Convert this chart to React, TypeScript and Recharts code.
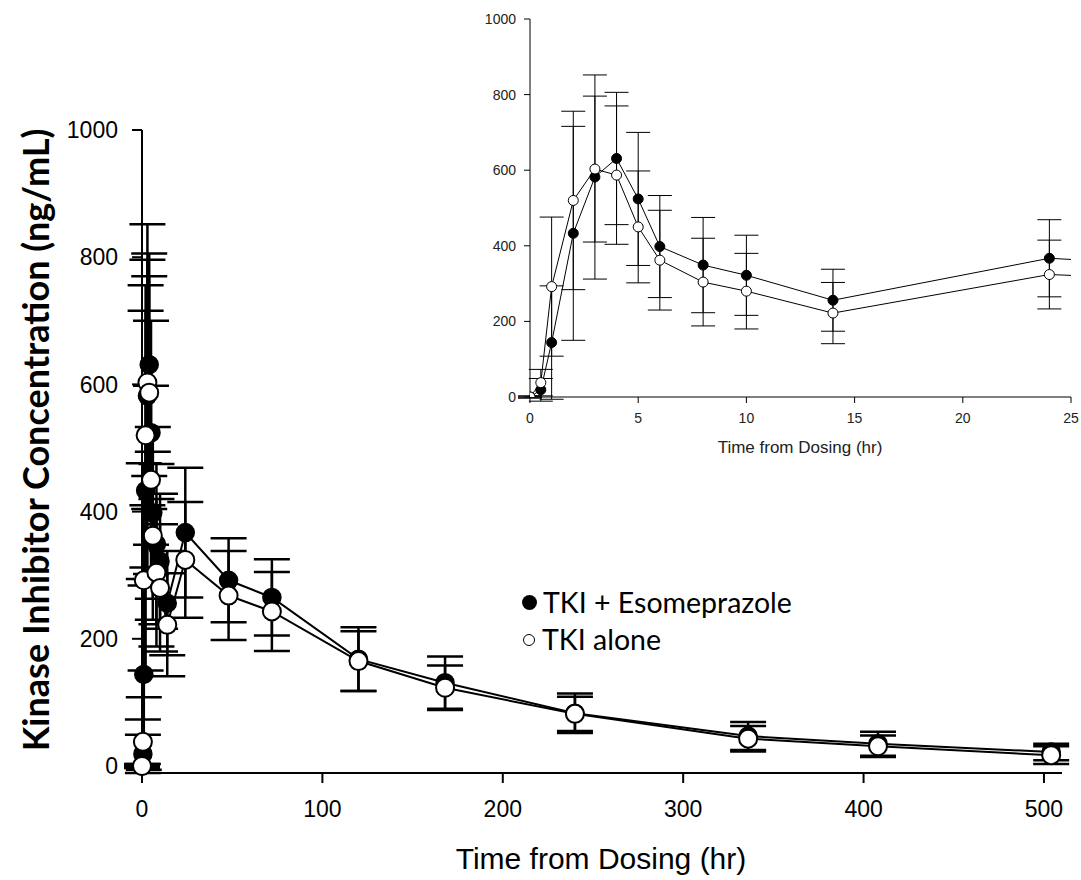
import { LineChart, Line, XAxis, YAxis, ErrorBar } from 'recharts';

// mean +/- SD (ng/mL), by time from dosing (hr)
const times = [0, 0.5, 1, 2, 3, 4, 5, 6, 8, 10, 14, 24, 48, 72, 120, 168, 240, 336, 408, 504];
const esoMean = [0, 19, 144, 433, 582, 631, 524, 398, 349, 322, 256, 367, 292, 265, 168, 131, 83, 47, 35, 22];
const esoSd = [3, 30, 150, 283, 270, 175, 176, 135, 126, 106, 82, 102, 66, 60, 50, 41, 31, 22, 19, 13];
const aloneMean = [0, 38, 292, 520, 603, 587, 450, 362, 304, 280, 222, 324, 268, 243, 165, 123, 82, 43, 31, 17];
const aloneSd = [2, 35, 184, 236, 193, 183, 148, 132, 116, 100, 81, 91, 70, 62, 47, 35, 27, 20, 17, 14];

const mainXTicks = [0, 100, 200, 300, 400, 500];
const insetXTicks = [0, 5, 10, 15, 20, 25];
const yTicks = [0, 200, 400, 600, 800, 1000];

const rows = times.map((t, i) => ({
  t,
  eso: esoMean[i],
  esoSd: esoSd[i],
  alone: aloneMean[i],
  aloneSd: aloneSd[i],
}));

const arial = '"Liberation Sans", Arial, sans-serif';
const calibriLike = 'Lato, "Noto Sans", sans-serif';

function MainChart() {
  const tick = { fontSize: 23, fill: '#000', fontFamily: arial };
  const axisLine = { stroke: '#000', strokeWidth: 2 };
  const tickLine = { stroke: '#000', strokeWidth: 2 };
  return (
    <LineChart width={1081} height={880} data={rows} margin={{ top: 130, right: 19, bottom: 0, left: 62 }}>
      <XAxis
        type="number"
        dataKey="t"
        domain={[0, 510]}
        ticks={mainXTicks}
        tick={tick}
        tickSize={10}
        tickMargin={18}
        axisLine={axisLine}
        tickLine={tickLine}
        height={107}
      />
      <YAxis
        type="number"
        domain={[0, 1000]}
        ticks={yTicks}
        tick={tick}
        tickSize={10}
        tickMargin={14}
        axisLine={axisLine}
        tickLine={tickLine}
        width={80}
      />
      <Line
        type="linear"
        dataKey="eso"
        stroke="#000"
        strokeWidth={2}
        dot={{ r: 9, fill: '#000', stroke: '#000', strokeWidth: 1.5 }}
        isAnimationActive={false}
      >
        <ErrorBar dataKey="esoSd" width={18} stroke="#000" strokeWidth={2.5} direction="y" />
      </Line>
      <Line
        type="linear"
        dataKey="alone"
        stroke="#000"
        strokeWidth={2}
        dot={{ r: 9, fill: '#fff', stroke: '#000', strokeWidth: 2 }}
        isAnimationActive={false}
      >
        <ErrorBar dataKey="aloneSd" width={18} stroke="#000" strokeWidth={2.5} direction="y" />
      </Line>
    </LineChart>
  );
}

function InsetChart() {
  const tick = { fontSize: 14, fill: '#222', fontFamily: arial };
  const axisLine = { stroke: '#000', strokeWidth: 1 };
  return (
    <LineChart width={641} height={480} data={rows} margin={{ top: 19, right: 10, bottom: 0, left: 40 }}>
      <XAxis
        type="number"
        dataKey="t"
        domain={[0, 25]}
        allowDataOverflow
        ticks={insetXTicks}
        tick={tick}
        tickSize={6}
        tickMargin={10}
        axisLine={axisLine}
        tickLine={axisLine}
        height={83}
      />
      <YAxis
        type="number"
        domain={[0, 1000]}
        allowDataOverflow
        ticks={yTicks}
        tick={tick}
        tickSize={6}
        tickMargin={8}
        axisLine={axisLine}
        tickLine={axisLine}
        width={50}
      />
      <Line
        type="linear"
        dataKey="eso"
        stroke="#000"
        strokeWidth={1}
        dot={{ r: 5, fill: '#000', stroke: '#000', strokeWidth: 1 }}
        isAnimationActive={false}
      >
        <ErrorBar dataKey="esoSd" width={12} stroke="#000" strokeWidth={1} direction="y" />
      </Line>
      <Line
        type="linear"
        dataKey="alone"
        stroke="#000"
        strokeWidth={1}
        dot={{ r: 5, fill: '#fff', stroke: '#000', strokeWidth: 1 }}
        isAnimationActive={false}
      >
        <ErrorBar dataKey="aloneSd" width={12} stroke="#000" strokeWidth={1} direction="y" />
      </Line>
    </LineChart>
  );
}

export default function App() {
  return (
    <div style={{ position: 'absolute', left: 0, top: 0, width: 1081, height: 880, background: '#fff', overflow: 'hidden' }}>
      <div style={{ position: 'absolute', left: 0, top: 0 }}>
        <MainChart />
      </div>
      <div style={{ position: 'absolute', left: 440, top: 0 }}>
        <InsetChart />
      </div>

      {/* inset x title */}
      <div
        style={{
          position: 'absolute',
          left: 700,
          width: 200,
          top: 438,
          textAlign: 'center',
          fontFamily: arial,
          fontSize: 17,
          color: '#222',
          whiteSpace: 'nowrap',
        }}
      >
        Time from Dosing (hr)
      </div>

      {/* main x title */}
      <div
        style={{
          position: 'absolute',
          left: 401,
          width: 400,
          top: 842,
          textAlign: 'center',
          fontFamily: arial,
          fontSize: 30,
          lineHeight: '34px',
          color: '#000',
          whiteSpace: 'nowrap',
        }}
      >
        Time from Dosing (hr)
      </div>

      {/* main y title */}
      <div
        style={{
          position: 'absolute',
          left: 35 - 400,
          top: 440 - 22,
          width: 800,
          height: 44,
          lineHeight: '44px',
          textAlign: 'center',
          transform: 'rotate(-90deg)',
          fontFamily: calibriLike,
          fontWeight: 700,
          fontSize: 36,
          color: '#000',
          whiteSpace: 'nowrap',
        }}
      >
        Kinase Inhibitor Concentration (ng/mL)
      </div>

      {/* legend */}
      <div style={{ position: 'absolute', left: 522, top: 584, fontFamily: calibriLike, fontSize: 28.5, lineHeight: '37px', color: '#000', whiteSpace: 'nowrap' }}>
        <div style={{ display: 'flex', alignItems: 'center' }}>
          <span style={{ display: 'inline-block', width: 15, height: 15, borderRadius: '50%', background: '#000', marginRight: 6 }} />
          <span>TKI + Esomeprazole</span>
        </div>
        <div style={{ display: 'flex', alignItems: 'center' }}>
          <span style={{ display: 'inline-block', width: 10, height: 10, borderRadius: '50%', border: '1.5px solid #000', marginLeft: 1, marginRight: 7 }} />
          <span>TKI alone</span>
        </div>
      </div>
    </div>
  );
}
